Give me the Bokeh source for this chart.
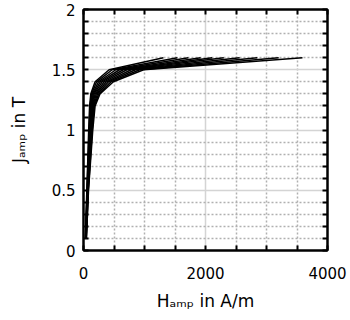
from bokeh.plotting import figure
from bokeh.models import FixedTicker, LinearAxis, Range1d
from bokeh.embed import file_html
from bokeh.resources import INLINE

# J levels (T) shared by all curves
j_levels = [0.1, 0.5, 1.0, 1.2, 1.3, 1.4, 1.5, 1.6]

# H values (A/m) for each curve at the J levels above
h_curves = [
    [30, 55, 85, 100, 120, 190, 420, 1310],
    [32, 58, 92, 108, 132, 215, 470, 1540],
    [34, 61, 99, 117, 146, 245, 530, 1720],
    [36, 64, 106, 126, 160, 275, 590, 1920],
    [38, 67, 113, 135, 175, 305, 650, 2110],
    [40, 70, 120, 145, 192, 340, 710, 2300],
    [42, 73, 128, 156, 210, 375, 780, 2560],
    [44, 76, 136, 167, 230, 410, 850, 2850],
    [46, 79, 144, 178, 250, 450, 920, 3200],
    [48, 82, 152, 190, 270, 490, 985, 3590],
]

x_major = [0, 2000, 4000]
x_minor = [500, 1000, 1500, 2500, 3000, 3500]
x_all = [0, 500, 1000, 1500, 2000, 2500, 3000, 3500, 4000]
y_major = [0, 0.5, 1, 1.5, 2]
y_minor = [0.1, 0.2, 0.3, 0.4, 0.6, 0.7, 0.8, 0.9, 1.1, 1.2, 1.3, 1.4,
           1.6, 1.7, 1.8, 1.9]
y_all = [0, 0.1, 0.2, 0.3, 0.4, 0.5, 0.6, 0.7, 0.8, 0.9, 1.0, 1.1, 1.2, 1.3,
         1.4, 1.5, 1.6, 1.7, 1.8, 1.9, 2.0]
x_tick_labels = {0: "0", 2000: "2000", 4000: "4000"}
y_tick_labels = {0: "0", 0.5: "0.5", 1: "1", 1.5: "1.5", 2: "2"}
x_title = "H\u2090\u2098\u209a in A/m"
y_title = "J\u2090\u2098\u209a in T"

FONT = "DejaVu Sans"

p = figure(width=350, height=320, output_backend="svg", toolbar_location=None,
           x_range=Range1d(0, 4000), y_range=Range1d(0, 2),
           min_border_left=83, min_border_right=23, min_border_top=9,
           min_border_bottom=70)
p.background_fill_color = "white"
p.border_fill_color = "white"
p.outline_line_color = "black"
p.outline_line_width = 2

bottom = p.below[0]
left = p.left[0]

xt = FixedTicker(ticks=x_major, minor_ticks=x_minor)
yt = FixedTicker(ticks=y_major, minor_ticks=y_minor)
bottom.ticker = xt
bottom.major_label_overrides = x_tick_labels
left.ticker = yt
left.major_label_overrides = y_tick_labels

top = LinearAxis(ticker=FixedTicker(ticks=[], minor_ticks=x_all))
right = LinearAxis(ticker=FixedTicker(ticks=[], minor_ticks=y_all))
p.add_layout(top, "above")
p.add_layout(right, "right")

for ax in [bottom, left, top, right]:
    ax.axis_line_color = "black"
    ax.axis_line_width = 2
    ax.major_tick_in = 5
    ax.major_tick_out = 0
    ax.minor_tick_in = 5
    ax.minor_tick_out = 0
    ax.major_tick_line_width = 2
    ax.minor_tick_line_width = 2
    ax.major_tick_line_color = "black"
    ax.minor_tick_line_color = "black"
    ax.major_label_text_font = FONT
    ax.major_label_text_font_size = "15px"
    ax.major_label_text_color = "black"
    ax.axis_label_text_font = FONT
    ax.axis_label_text_font_size = "17px"
    ax.axis_label_text_font_style = "normal"
    ax.axis_label_text_color = "black"

top.major_label_standoff = 0
right.major_label_standoff = 0
bottom.major_label_standoff = 16
left.major_label_standoff = 8

bottom.axis_label = x_title
bottom.axis_label_standoff = 9
left.axis_label = y_title
left.axis_label_standoff = 20

p.xgrid.ticker = xt
p.ygrid.ticker = yt
p.xgrid.grid_line_color = "#d4d4d4"
p.xgrid.grid_line_width = 1.5
p.ygrid.grid_line_color = "#d4d4d4"
p.ygrid.grid_line_width = 1.5
p.xgrid.minor_grid_line_color = "#b0b0b0"
p.xgrid.minor_grid_line_dash = "2 2"
p.xgrid.minor_grid_line_width = 1.5
p.ygrid.minor_grid_line_color = "#b0b0b0"
p.ygrid.minor_grid_line_dash = "2 2"
p.ygrid.minor_grid_line_width = 1.5

for hs in h_curves:
    p.line(hs, j_levels, line_color="black", line_width=1.5)

open("out.html", "w").write(file_html(p, INLINE))
